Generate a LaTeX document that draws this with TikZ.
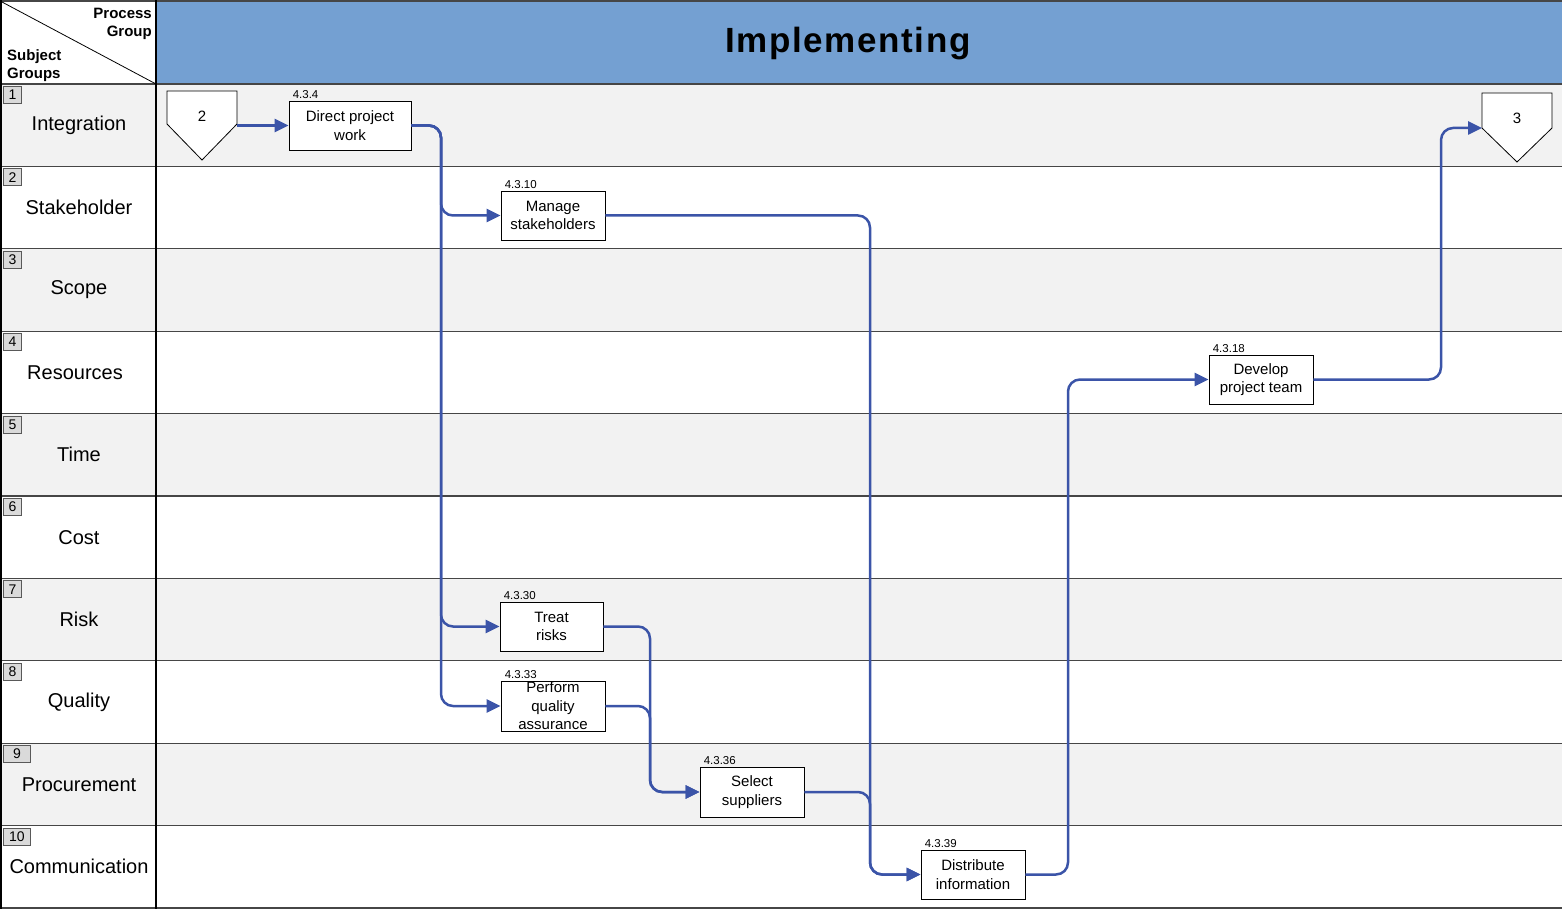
\documentclass[tikz,border=0pt]{standalone}
\usepackage{fontspec}
\setmainfont{Liberation Sans}
\newfontfamily\titlefont[LetterSpace=4.5]{Liberation Sans}
\usetikzlibrary{arrows.meta,calc}
\definecolor{hdrblue}{RGB}{116,160,210}
\definecolor{rowgray}{RGB}{242,242,242}
\definecolor{numgray}{RGB}{218,218,218}
\definecolor{flowblue}{RGB}{59,84,168}
\definecolor{gridline}{RGB}{70,70,70}
\begin{document}
\begin{tikzpicture}[x=1pt,y=-1pt,
  procbox/.style={draw=black, line width=0.8pt, fill=white, minimum width=104pt, minimum height=49pt, inner sep=0pt},
  proctext/.style={font=\fontsize{15}{18.5}\selectfont, align=center, inner sep=0pt},
  idlabel/.style={font=\fontsize{11.5}{12}\selectfont, anchor=base west, inner sep=0pt},
  rowlabel/.style={font=\fontsize{20}{24}\selectfont, inner sep=0pt},
  numbox/.style={draw=gray!70!black, fill=numgray, line width=0.8pt, minimum height=17pt, inner sep=0pt, font=\fontsize{14}{14}\selectfont, anchor=north west},
  flow/.style={draw=flowblue, line width=2.5pt, rounded corners=12pt, -{Triangle[length=14pt,width=13pt]}},
  pent/.style={draw=black, line width=0.8pt, fill=white},
  penttext/.style={font=\fontsize{15}{18}\selectfont, inner sep=0pt}
]
\useasboundingbox (0,0) rectangle (1562,909);
% row backgrounds
\foreach \i in {0,2,4,6,8}
  \fill[rowgray] (0,{84+82.4*\i}) rectangle (1562,{84+82.4*(\i+1)});
% header
\fill[hdrblue] (156,0) rectangle (1562,84);
\draw[gridline, line width=1.2pt] (0,1) -- (1562,1);
\foreach \i in {0,...,10}
  \draw[gridline, line width=1.2pt] (0,{84+82.4*\i}) -- (1562,{84+82.4*\i});
\draw[black, line width=1.2pt] (156,0) -- (156,909);
\draw[black, line width=1.2pt] (1,0) -- (1,909);
\draw[black, line width=0.8pt] (2,2) -- (156,84);
\node[anchor=north east, align=right, font=\bfseries\fontsize{15}{18}\selectfont, inner sep=0pt] (pg) at (152,8) {Process\\Group};
\node[anchor=north west, align=left, font=\bfseries\fontsize{15}{18}\selectfont, inner sep=0pt] (sg) at (7,49) {Subject\\Groups};
\node[anchor=base, inner sep=0pt, font=\titlefont\bfseries\fontsize{35}{40}\selectfont] (title) at (848,53) {Implementing};
% number boxes and row labels
\foreach \n/\lab/\w/\lx in {1/Integration/18/79,2/Stakeholder/18/79,3/Scope/18/79,4/Resources/18/75,5/Time/18/79,6/Cost/18/79,7/Risk/18/79,8/Quality/18/79,9/Procurement/27/79,10/Communication/27/79}{
  \node[numbox, minimum width=\w pt] (n\n) at (3,{84+82.4*(\n-1)+2}) {\n};
  \node[rowlabel] (l\n) at (\lx,{84+82.4*(\n-1)+41.2}) {\lab};
}
% pentagons
\draw[pent] (167,91) -- (237,91) -- (237,124) -- (202,160) -- (167,124) -- cycle;
\node[penttext] (p2) at (202,116) {2};
\coordinate (p2e) at (237,125.5);
\draw[pent] (1482,93) -- (1552,93) -- (1552,128) -- (1517,162) -- (1482,128) -- cycle;
\node[penttext] (p3) at (1517,118) {3};
\coordinate (p3w) at (1482,128);
% process boxes
\node[procbox, minimum width=122pt] (dpw) at (350,125.5) {};
\node[proctext] (dpwt) at (dpw) {Direct project\\work};
\node[idlabel] (dpwid) at ([xshift=4pt,yshift=2.5pt]dpw.north west) {4.3.4};

\node[procbox] (ms) at (553,215.5) {};
\node[proctext] (mst) at (ms) {Manage\\stakeholders};
\node[idlabel] (msid) at ([xshift=4pt,yshift=2.5pt]ms.north west) {4.3.10};

\node[procbox] (dpt) at (1261,379.5) {};
\node[proctext] (dptt) at (dpt) {Develop\\project team};
\node[idlabel] (dptid) at ([xshift=4pt,yshift=2.5pt]dpt.north west) {4.3.18};

\node[procbox, minimum width=103pt] (tr) at (551.5,626.5) {};
\node[proctext] (trt) at (tr) {Treat\\risks};
\node[idlabel] (trid) at ([xshift=4pt,yshift=2.5pt]tr.north west) {4.3.30};

\node[procbox, minimum height=50pt] (pqa) at (553,706) {};
\node[proctext] (pqat) at (pqa) {Perform\\quality\\assurance};
\node[idlabel] (pqaid) at ([xshift=4pt,yshift=2.5pt]pqa.north west) {4.3.33};

\node[procbox, minimum height=50pt] (ss) at (752,792) {};
\node[proctext] (sst) at (ss) {Select\\suppliers};
\node[idlabel] (ssid) at ([xshift=4pt,yshift=2.5pt]ss.north west) {4.3.36};

\node[procbox] (di) at (973,874.5) {};
\node[proctext] (dit) at (di) {Distribute\\information};
\node[idlabel] (diid) at ([xshift=4pt,yshift=2.5pt]di.north west) {4.3.39};
% connectors
\coordinate (tA) at (441,0);
\coordinate (tB) at (650,0);
\coordinate (tC) at (870,0);
\coordinate (tD) at (1068,0);
\coordinate (tE) at (1441,0);
\draw[flow] (p2e) -- (dpw.west);
\draw[flow] (dpw.east) -| (tA |- ms.west) -- (ms.west);
\draw[flow] (dpw.east) -| (tA |- tr.west) -- (tr.west);
\draw[flow] (dpw.east) -| (tA |- pqa.west) -- (pqa.west);
\draw[flow] (tr.east) -| (tB |- ss.west) -- (ss.west);
\draw[flow] (pqa.east) -| (tB |- ss.west) -- (ss.west);
\draw[flow] (ms.east) -| (tC |- di.west) -- (di.west);
\draw[flow] (ss.east) -| (tC |- di.west) -- (di.west);
\draw[flow] (di.east) -| (tD |- dpt.west) -- (dpt.west);
\draw[flow] (dpt.east) -| (tE |- p3w) -- (p3w);
\end{tikzpicture}
\end{document}
